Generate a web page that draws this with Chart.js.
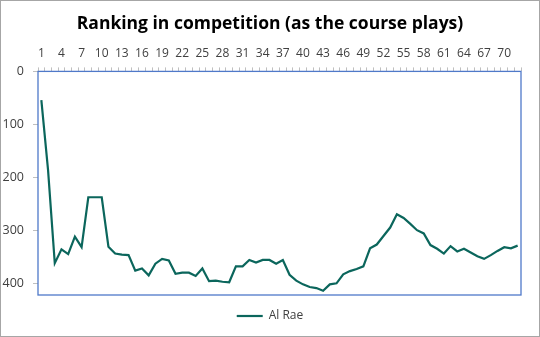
<!DOCTYPE html>
<html>
<head>
<meta charset="utf-8">
<script src="https://cdn.jsdelivr.net/npm/chart.js@4.4.1/dist/chart.umd.min.js"></script>
<style>
  html, body { margin: 0; padding: 0; background: #fff; }
  #wrap { width: 540px; height: 337px; position: relative; }
</style>
</head>
<body>
<div id="wrap"><canvas id="chart"></canvas></div>
<script>
// holes played, 1..72
const holes = [
  '1','2','3','4','5','6','7','8','9','10','11','12','13','14','15','16','17','18',
  '19','20','21','22','23','24','25','26','27','28','29','30','31','32','33','34','35','36',
  '37','38','39','40','41','42','43','44','45','46','47','48','49','50','51','52','53','54',
  '55','56','57','58','59','60','61','62','63','64','65','66','67','68','69','70','71','72'
];

// only every third hole gets a label on the top axis
const xTickLabels = ['1','4','7','10','13','16','19','22','25','28','31','34','37','40','43','46','49','52','55','58','61','64','67','70'];

const seriesName = 'Al Rae';
const ranking = [
  54, 186, 361, 335, 344, 311, 331, 237, 237, 237,
  330, 343, 345, 346, 375, 371, 384, 362, 353, 356,
  381, 379, 379, 385, 371, 395, 394, 396, 397, 367,
  367, 355, 360, 355, 355, 362, 355, 383, 394, 401,
  406, 408, 413, 401, 399, 382, 376, 372, 367, 333,
  326, 310, 294, 269, 276, 287, 299, 305, 327, 334,
  343, 329, 339, 334, 341, 348, 353, 346, 338, 331,
  333, 328
];

const yMin = 0;
const yMax = 421;
const yStep = 100;

const FONT = "'Open Sans', 'Noto Sans', sans-serif";
const LINE = '#0b665c';
const TICK_GREY = '#bfbfbf';

// white background, outer grey frame and blue plot border
const framePlugin = {
  id: 'frame',
  beforeDraw(chart) {
    const { ctx, width, height } = chart;
    ctx.save();
    ctx.fillStyle = '#fff';
    ctx.fillRect(0, 0, width, height);
    ctx.strokeStyle = '#a6a6a6';
    ctx.lineWidth = 1;
    ctx.strokeRect(0.5, 0.5, width - 1, height - 1);
    ctx.restore();
  },
  beforeDatasetsDraw(chart) {
    const { ctx, chartArea: a } = chart;
    ctx.save();
    ctx.strokeStyle = '#4f79c9';
    ctx.lineWidth = 1.3;
    ctx.strokeRect(a.left, a.top, a.right - a.left, a.bottom - a.top);
    ctx.restore();
  }
};

new Chart(document.getElementById('chart').getContext('2d'), {
  type: 'line',
  data: {
    labels: holes,
    datasets: [{
      label: seriesName,
      data: ranking,
      borderColor: LINE,
      backgroundColor: LINE,
      borderWidth: 2.2,
      pointRadius: 0,
      tension: 0,
      yAxisID: 'y'
    }]
  },
  options: {
    responsive: true,
    maintainAspectRatio: false,
    animation: false,
    layout: { padding: { left: 0, right: 0, top: 0, bottom: 5 } },
    plugins: {
      title: {
        display: true,
        text: 'Ranking in competition (as the course plays)',
        color: '#000',
        font: { family: FONT, size: 17.5, weight: 'bold' },
        padding: { top: 14, bottom: 0 }
      },
      legend: {
        position: 'bottom',
        labels: {
          usePointStyle: true,
          pointStyle: 'line',
          pointStyleWidth: 26,
          padding: 15,
          color: '#404040',
          font: { family: FONT, size: 12 }
        }
      },
      tooltip: { enabled: false }
    },
    scales: {
      x: {
        position: 'top',
        offset: true,
        afterFit: s => { s.height = 37 - 0.6; },
        grid: { offset: true, drawOnChartArea: false, drawTicks: true, tickLength: 4, color: TICK_GREY },
        border: { display: false },
        ticks: {
          autoSkip: false,
          maxRotation: 0,
          minRotation: 0,
          padding: 7,
          color: '#404040',
          font: { family: FONT, size: 12 },
          callback: function (v, i) {
            const lab = holes[i];
            return xTickLabels.includes(lab) ? lab : '';
          }
        }
      },
      y: {
        position: 'left',
        reverse: true,
        min: yMin,
        max: yMax,
        afterFit: s => { s.width = 38; },
        grid: { drawOnChartArea: false, drawTicks: true, tickLength: 5, color: TICK_GREY },
        border: { display: false },
        ticks: {
          stepSize: yStep,
          includeBounds: false,
          padding: 9,
          color: '#404040',
          font: { family: FONT, size: 12.5 }
        }
      },
      yRight: {
        position: 'right',
        display: true,
        afterFit: s => { s.width = 19; },
        grid: { display: false },
        border: { display: false },
        ticks: { display: false }
      }
    }
  },
  plugins: [framePlugin]
});
</script>
</body>
</html>
